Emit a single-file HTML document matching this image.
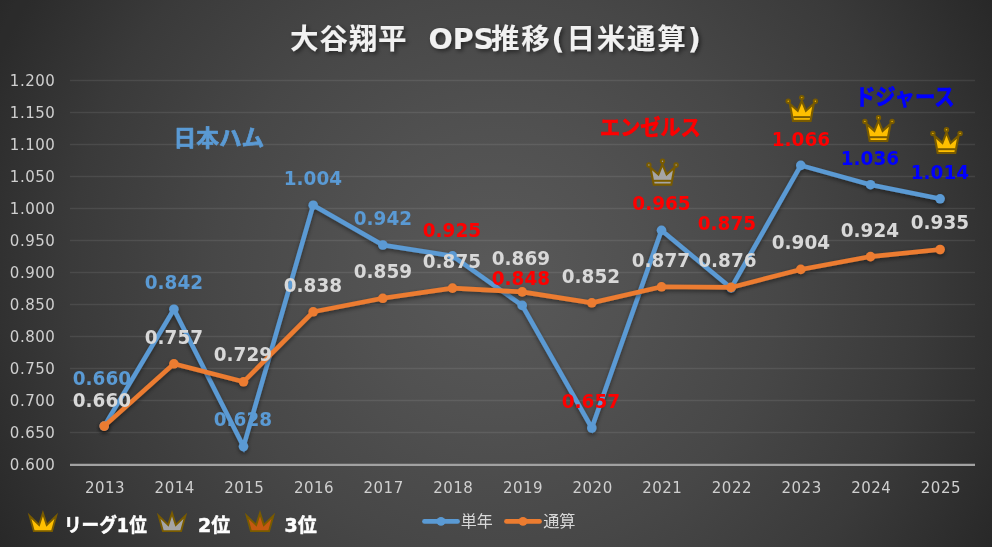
<!DOCTYPE html>
<html lang="ja"><head><meta charset="utf-8"><title>大谷翔平 OPS推移(日米通算)</title>
<style>
html,body{margin:0;padding:0;background:#2b2b2b;}
body{width:992px;height:547px;overflow:hidden;}
svg{display:block;will-change:transform;opacity:0.999;}
.ax{font-family:"DejaVu Sans","Liberation Sans",sans-serif;font-size:15px;fill:#D0D0D0;letter-spacing:0.5px;}
.dl{font-family:"DejaVu Sans","Liberation Sans",sans-serif;font-weight:bold;font-size:19.6px;text-anchor:middle;}
.jp{font-family:"Liberation Sans","Noto Sans CJK JP",sans-serif;font-weight:bold;}
</style></head><body>
<svg width="992" height="547" viewBox="0 0 992 547">
<defs>
<radialGradient id="bg" gradientUnits="userSpaceOnUse" cx="496" cy="273.5" r="566">
<stop offset="0" stop-color="#5a5a5a"/><stop offset="0.25" stop-color="#525252"/><stop offset="0.5" stop-color="#484848"/><stop offset="0.75" stop-color="#3b3b3b"/><stop offset="1" stop-color="#292929"/>
</radialGradient>
<filter id="sh" x="-5%" y="-20%" width="110%" height="150%"><feDropShadow dx="0" dy="2" stdDeviation="2" flood-color="#000" flood-opacity="0.45"/></filter>
<filter id="tsh" x="-5%" y="-30%" width="110%" height="170%"><feDropShadow dx="2" dy="2" stdDeviation="2" flood-color="#000" flood-opacity="0.5"/></filter>
<g id="crownA" stroke="#7A5C00">
<path d="M-12 -5.4 L-13.6 -7.9 M12 -5.4 L13.6 -7.9 M0 -8.6 V-11.6" stroke-width="1.9" fill="none"/>
<path d="M-8.8 11.7 L-12 -5.4 L-4.1 1.6 L0 -8.6 L4.1 1.6 L12 -5.4 L8.8 11.7 Z" stroke-width="2.1" stroke-linejoin="miter"/>
<path d="M-8.5 7.9 H8.5" stroke-width="2" fill="none"/>
<circle cx="-13.6" cy="-7.9" r="1.7" stroke-width="2"/>
<circle cx="0" cy="-11.6" r="1.7" stroke-width="2"/>
<circle cx="13.6" cy="-7.9" r="1.7" stroke-width="2"/>
</g>
<g id="crownB">
<path d="M-9.1 9.1 L-13.3 -6.1 L-3.8 2.9 L0 -8.9 L3.8 2.9 L13.3 -6.1 L9.1 9.1 Z" stroke="#7A5C00" stroke-width="1.9" stroke-linejoin="miter"/>
</g>
</defs>
<rect width="992" height="547" fill="url(#bg)"/>

<line x1="70.0" x2="975.0" y1="464.9" y2="464.9" stroke="#A3A3A3" stroke-width="2.4"/>
<text class="ax" x="55.3" y="470.0" text-anchor="end">0.600</text>
<line x1="70.0" x2="975.0" y1="432.5" y2="432.5" stroke="#FFFFFF" stroke-opacity="0.085" stroke-width="1.3"/>
<text class="ax" x="55.3" y="438.0" text-anchor="end">0.650</text>
<line x1="70.0" x2="975.0" y1="400.5" y2="400.5" stroke="#FFFFFF" stroke-opacity="0.085" stroke-width="1.3"/>
<text class="ax" x="55.3" y="406.0" text-anchor="end">0.700</text>
<line x1="70.0" x2="975.0" y1="368.5" y2="368.5" stroke="#FFFFFF" stroke-opacity="0.085" stroke-width="1.3"/>
<text class="ax" x="55.3" y="374.0" text-anchor="end">0.750</text>
<line x1="70.0" x2="975.0" y1="336.5" y2="336.5" stroke="#FFFFFF" stroke-opacity="0.085" stroke-width="1.3"/>
<text class="ax" x="55.3" y="342.0" text-anchor="end">0.800</text>
<line x1="70.0" x2="975.0" y1="304.5" y2="304.5" stroke="#FFFFFF" stroke-opacity="0.085" stroke-width="1.3"/>
<text class="ax" x="55.3" y="310.0" text-anchor="end">0.850</text>
<line x1="70.0" x2="975.0" y1="272.5" y2="272.5" stroke="#FFFFFF" stroke-opacity="0.085" stroke-width="1.3"/>
<text class="ax" x="55.3" y="278.0" text-anchor="end">0.900</text>
<line x1="70.0" x2="975.0" y1="240.5" y2="240.5" stroke="#FFFFFF" stroke-opacity="0.085" stroke-width="1.3"/>
<text class="ax" x="55.3" y="246.0" text-anchor="end">0.950</text>
<line x1="70.0" x2="975.0" y1="208.5" y2="208.5" stroke="#FFFFFF" stroke-opacity="0.085" stroke-width="1.3"/>
<text class="ax" x="55.3" y="214.0" text-anchor="end">1.000</text>
<line x1="70.0" x2="975.0" y1="176.5" y2="176.5" stroke="#FFFFFF" stroke-opacity="0.085" stroke-width="1.3"/>
<text class="ax" x="55.3" y="182.0" text-anchor="end">1.050</text>
<line x1="70.0" x2="975.0" y1="144.5" y2="144.5" stroke="#FFFFFF" stroke-opacity="0.085" stroke-width="1.3"/>
<text class="ax" x="55.3" y="150.0" text-anchor="end">1.100</text>
<line x1="70.0" x2="975.0" y1="112.5" y2="112.5" stroke="#FFFFFF" stroke-opacity="0.085" stroke-width="1.3"/>
<text class="ax" x="55.3" y="118.0" text-anchor="end">1.150</text>
<line x1="70.0" x2="975.0" y1="80.5" y2="80.5" stroke="#FFFFFF" stroke-opacity="0.085" stroke-width="1.3"/>
<text class="ax" x="55.3" y="86.0" text-anchor="end">1.200</text>
<text class="ax" x="105.0" y="493" text-anchor="middle">2013</text>
<text class="ax" x="174.7" y="493" text-anchor="middle">2014</text>
<text class="ax" x="244.3" y="493" text-anchor="middle">2015</text>
<text class="ax" x="314.0" y="493" text-anchor="middle">2016</text>
<text class="ax" x="383.6" y="493" text-anchor="middle">2017</text>
<text class="ax" x="453.3" y="493" text-anchor="middle">2018</text>
<text class="ax" x="523.0" y="493" text-anchor="middle">2019</text>
<text class="ax" x="592.6" y="493" text-anchor="middle">2020</text>
<text class="ax" x="662.3" y="493" text-anchor="middle">2021</text>
<text class="ax" x="731.9" y="493" text-anchor="middle">2022</text>
<text class="ax" x="801.6" y="493" text-anchor="middle">2023</text>
<text class="ax" x="871.3" y="493" text-anchor="middle">2024</text>
<text class="ax" x="940.9" y="493" text-anchor="middle">2025</text>
<g filter="url(#tsh)" font-weight="bold" font-size="28.5" fill="#F2F2F2" font-family='"DejaVu Sans","Liberation Sans","Noto Sans CJK JP",sans-serif'><text x="290" y="49" letter-spacing="0.85">大谷翔平</text><text x="428.5" y="49" font-size="28.5" letter-spacing="0">OPS</text><text x="491" y="49" letter-spacing="1.8">推移(日米通算)</text></g>
<g filter="url(#sh)"><polyline points="104.2,426.1 173.9,309.2 243.5,446.6 313.2,205.2 382.8,245.0 452.5,255.9 522.2,305.4 591.8,428.0 661.5,230.3 731.1,288.1 800.8,165.4 870.5,184.7 940.1,198.8" fill="none" stroke="#5B9BD5" stroke-width="4.6" stroke-linejoin="miter" stroke-linecap="round"/><circle cx="104.2" cy="426.1" r="4.8" fill="#5B9BD5"/><circle cx="173.9" cy="309.2" r="4.8" fill="#5B9BD5"/><circle cx="243.5" cy="446.6" r="4.8" fill="#5B9BD5"/><circle cx="313.2" cy="205.2" r="4.8" fill="#5B9BD5"/><circle cx="382.8" cy="245.0" r="4.8" fill="#5B9BD5"/><circle cx="452.5" cy="255.9" r="4.8" fill="#5B9BD5"/><circle cx="522.2" cy="305.4" r="4.8" fill="#5B9BD5"/><circle cx="591.8" cy="428.0" r="4.8" fill="#5B9BD5"/><circle cx="661.5" cy="230.3" r="4.8" fill="#5B9BD5"/><circle cx="731.1" cy="288.1" r="4.8" fill="#5B9BD5"/><circle cx="800.8" cy="165.4" r="4.8" fill="#5B9BD5"/><circle cx="870.5" cy="184.7" r="4.8" fill="#5B9BD5"/><circle cx="940.1" cy="198.8" r="4.8" fill="#5B9BD5"/></g>
<g filter="url(#sh)"><polyline points="104.2,426.1 173.9,363.8 243.5,381.8 313.2,311.8 382.8,298.3 452.5,288.1 522.2,291.9 591.8,302.8 661.5,286.8 731.1,287.4 800.8,269.4 870.5,256.6 940.1,249.5" fill="none" stroke="#ED7D31" stroke-width="4.6" stroke-linejoin="miter" stroke-linecap="round"/><circle cx="104.2" cy="426.1" r="4.8" fill="#ED7D31"/><circle cx="173.9" cy="363.8" r="4.8" fill="#ED7D31"/><circle cx="243.5" cy="381.8" r="4.8" fill="#ED7D31"/><circle cx="313.2" cy="311.8" r="4.8" fill="#ED7D31"/><circle cx="382.8" cy="298.3" r="4.8" fill="#ED7D31"/><circle cx="452.5" cy="288.1" r="4.8" fill="#ED7D31"/><circle cx="522.2" cy="291.9" r="4.8" fill="#ED7D31"/><circle cx="591.8" cy="302.8" r="4.8" fill="#ED7D31"/><circle cx="661.5" cy="286.8" r="4.8" fill="#ED7D31"/><circle cx="731.1" cy="287.4" r="4.8" fill="#ED7D31"/><circle cx="800.8" cy="269.4" r="4.8" fill="#ED7D31"/><circle cx="870.5" cy="256.6" r="4.8" fill="#ED7D31"/><circle cx="940.1" cy="249.5" r="4.8" fill="#ED7D31"/></g>
<text class="jp" transform="translate(218.9 146) scale(1.018 1)" text-anchor="middle" font-size="22.3" fill="#5B9BD5" stroke="#5B9BD5" stroke-width="0.7" stroke-linejoin="round">日本ハム</text>
<text class="jp" transform="translate(650.4 134.6) scale(0.937 1)" text-anchor="middle" font-size="21.5" fill="#FF0000" stroke="#FF0000" stroke-width="0.6" stroke-linejoin="round">エンゼルス</text>
<text class="jp" transform="translate(904.8 105) scale(0.897 1)" text-anchor="middle" font-size="22.7" fill="#0000FF" stroke="#0000FF" stroke-width="0.6" stroke-linejoin="round">ドジャース</text>
<text class="dl" transform="translate(101.9 406.5) scale(0.94 1)" fill="#D9D9D9">0.660</text>
<text class="dl" transform="translate(173.9 344.0) scale(0.94 1)" fill="#D9D9D9">0.757</text>
<text class="dl" transform="translate(242.9 360.5) scale(0.94 1)" fill="#D9D9D9">0.729</text>
<text class="dl" transform="translate(312.9 291.5) scale(0.94 1)" fill="#D9D9D9">0.838</text>
<text class="dl" transform="translate(382.9 277.5) scale(0.94 1)" fill="#D9D9D9">0.859</text>
<text class="dl" transform="translate(451.9 267.5) scale(0.94 1)" fill="#D9D9D9">0.875</text>
<text class="dl" transform="translate(520.9 264.5) scale(0.94 1)" fill="#D9D9D9">0.869</text>
<text class="dl" transform="translate(590.9 282.5) scale(0.94 1)" fill="#D9D9D9">0.852</text>
<text class="dl" transform="translate(660.9 266.5) scale(0.94 1)" fill="#D9D9D9">0.877</text>
<text class="dl" transform="translate(727.4 266.5) scale(0.94 1)" fill="#D9D9D9">0.876</text>
<text class="dl" transform="translate(800.9 248.5) scale(0.94 1)" fill="#D9D9D9">0.904</text>
<text class="dl" transform="translate(869.9 236.5) scale(0.94 1)" fill="#D9D9D9">0.924</text>
<text class="dl" transform="translate(939.9 228.5) scale(0.94 1)" fill="#D9D9D9">0.935</text>
<text class="dl" transform="translate(101.9 384.8) scale(0.94 1)" fill="#5B9BD5">0.660</text>
<text class="dl" transform="translate(173.9 288.5) scale(0.94 1)" fill="#5B9BD5">0.842</text>
<text class="dl" transform="translate(242.9 425.5) scale(0.94 1)" fill="#5B9BD5">0.628</text>
<text class="dl" transform="translate(312.9 184.5) scale(0.94 1)" fill="#5B9BD5">1.004</text>
<text class="dl" transform="translate(382.9 224.5) scale(0.94 1)" fill="#5B9BD5">0.942</text>
<text class="dl" transform="translate(451.9 236.5) scale(0.94 1)" fill="#FF0000">0.925</text>
<text class="dl" transform="translate(520.9 284.5) scale(0.94 1)" fill="#FF0000">0.848</text>
<text class="dl" transform="translate(590.9 407.5) scale(0.94 1)" fill="#FF0000">0.657</text>
<text class="dl" transform="translate(661.5 210.0) scale(0.94 1)" fill="#FF0000">0.965</text>
<text class="dl" transform="translate(726.9 229.5) scale(0.94 1)" fill="#FF0000">0.875</text>
<text class="dl" transform="translate(800.9 145.5) scale(0.94 1)" fill="#FF0000">1.066</text>
<text class="dl" transform="translate(869.9 164.5) scale(0.94 1)" fill="#0000FF">1.036</text>
<text class="dl" transform="translate(939.9 178.5) scale(0.94 1)" fill="#0000FF">1.014</text>
<use href="#crownA" x="662.5" y="172.9" fill="#A6A6A6"/>
<use href="#crownA" x="801.8" y="109.2" fill="#FFC000"/>
<use href="#crownA" x="878.5" y="129.3" fill="#FFC000"/>
<use href="#crownA" x="946.5" y="141.3" fill="#FFC000"/>
<use href="#crownB" x="42.9" y="522" fill="#FFC000"/>
<use href="#crownB" x="172" y="522" fill="#A6A6A6"/>
<use href="#crownB" x="260" y="522" fill="#C55A11"/>
<text transform="translate(63.9 532) scale(0.93 1)" font-family='"DejaVu Sans","Liberation Sans","Noto Sans CJK JP",sans-serif' font-weight="bold" font-size="19" fill="#FFFFFF" stroke="#FFFFFF" stroke-width="0.5" stroke-linejoin="round">リーグ1位</text>
<text x="198" y="532" font-family='"DejaVu Sans","Liberation Sans","Noto Sans CJK JP",sans-serif' font-weight="bold" font-size="19" fill="#FFFFFF" stroke="#FFFFFF" stroke-width="0.5" stroke-linejoin="round">2位</text>
<text x="284.6" y="532" font-family='"DejaVu Sans","Liberation Sans","Noto Sans CJK JP",sans-serif' font-weight="bold" font-size="19" fill="#FFFFFF" stroke="#FFFFFF" stroke-width="0.5" stroke-linejoin="round">3位</text>
<line x1="424.5" x2="457.5" y1="521.4" y2="521.4" stroke="#5B9BD5" stroke-width="4.8" stroke-linecap="round"/><circle cx="441" cy="521.4" r="4.4" fill="#5B9BD5"/>
<text x="460.8" y="527.2" font-family='"Liberation Sans","Noto Sans CJK JP",sans-serif' font-size="16" fill="#D9D9D9">単年</text>
<line x1="506.5" x2="539.5" y1="521.4" y2="521.4" stroke="#ED7D31" stroke-width="4.8" stroke-linecap="round"/><circle cx="523" cy="521.4" r="4.4" fill="#ED7D31"/>
<text x="543.2" y="527.2" font-family='"Liberation Sans","Noto Sans CJK JP",sans-serif' font-size="16.2" fill="#D9D9D9">通算</text>
</svg></body></html>
